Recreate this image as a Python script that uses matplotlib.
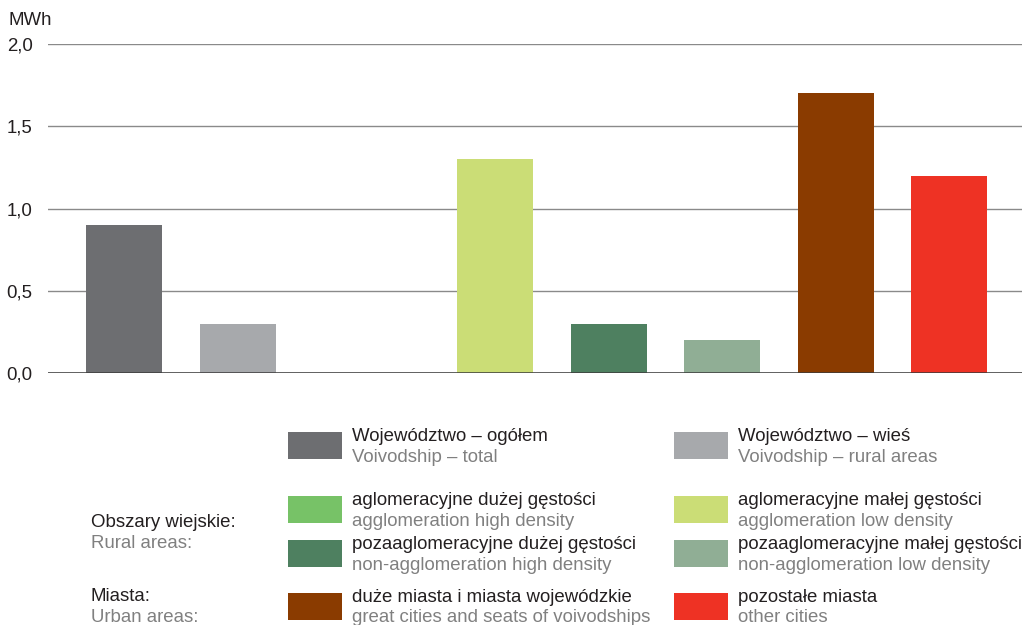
import matplotlib.pyplot as plt
from matplotlib.patches import Rectangle

plt.rcParams['font.family'] = ['Liberation Sans', 'DejaVu Sans']

# Data
labels_pl = ["Województwo – ogółem", "Województwo – wieś",
             "aglomeracyjne dużej gęstości", "aglomeracyjne małej gęstości",
             "pozaaglomeracyjne dużej gęstości", "pozaaglomeracyjne małej gęstości",
             "duże miasta i miasta wojewódzkie", "pozostałe miasta"]
labels_en = ["Voivodship – total", "Voivodship – rural areas",
             "agglomeration high density", "agglomeration low density",
             "non-agglomeration high density", "non-agglomeration low density",
             "great cities and seats of voivodships", "other cities"]
values = [0.9, 0.3, 0.0, 1.3, 0.3, 0.2, 1.7, 1.2]
colors = ["#6d6e71", "#a7a9ac", "#77c267", "#cbdd76",
          "#4e8060", "#90ae95", "#8a3b00", "#ee3224"]
# x slot of each bar (extra gap after the voivodship bars)
bar_slots = [0, 1, 2.27, 3.27, 4.27, 5.27, 6.27, 7.27]
y_ticks = [0.0, 0.5, 1.0, 1.5, 2.0]
y_unit = "MWh"

# legend rows: (left item, right item)
legend_rows = [(0, 1), (2, 3), (4, 5), (6, 7)]
legend_row_tops = [432, 496, 540, 593]
group_labels = [("Obszary wiejskie:", "Rural areas:", 527),
                ("Miasta:", "Urban areas:", 601)]

W, H = 1022, 625
FS = 13.4
DARK = "#231f20"
GREY = "#808080"


def main():
    fig = plt.figure(figsize=(W / 100, H / 100), dpi=100)

    # Bar chart
    ax = fig.add_axes([48 / W, (H - 373) / H, (W - 48) / W, 329 / H])
    ax.bar(bar_slots, values, width=0.67, color=colors, zorder=3)
    ax.set_xlim(-0.67, 7.91)
    ax.set_ylim(0, 2.0)
    ax.set_yticks(y_ticks)
    ax.set_yticklabels([f"{v:.1f}".replace(".", ",") for v in y_ticks])
    ax.tick_params(axis='y', length=0, pad=11, labelsize=FS, labelcolor=DARK)
    ax.set_xticks([])
    for s in ax.spines.values():
        s.set_visible(False)
    ax.yaxis.grid(True, color="#8a8a8a", linewidth=1.0)
    ax.set_axisbelow(True)
    ax.axhline(0, color="#3c3c3c", linewidth=1.1, zorder=4)

    # Overlay in pixel coordinates for unit label and legend
    lay = fig.add_axes([0, 0, 1, 1])
    lay.set_xlim(0, W)
    lay.set_ylim(H, 0)
    lay.axis('off')
    lay.text(9, 25, y_unit, fontsize=FS, color=DARK, va='baseline')

    # Legend
    for (left, right), top in zip(legend_rows, legend_row_tops):
        for idx, x0 in ((left, 288), (right, 674)):
            lay.add_patch(Rectangle((x0, top), 54, 27, color=colors[idx], lw=0))
            lay.text(x0 + 64, top + 9, labels_pl[idx], fontsize=FS,
                     color=DARK, va='baseline')
            lay.text(x0 + 64, top + 29.5, labels_en[idx], fontsize=FS,
                     color=GREY, va='baseline')
    for pl, en, base in group_labels:
        lay.text(91, base, pl, fontsize=FS, color=DARK, va='baseline')
        lay.text(91, base + 20.5, en, fontsize=FS, color=GREY, va='baseline')

    fig.savefig("out.png", dpi=100)


if __name__ == "__main__":
    main()
